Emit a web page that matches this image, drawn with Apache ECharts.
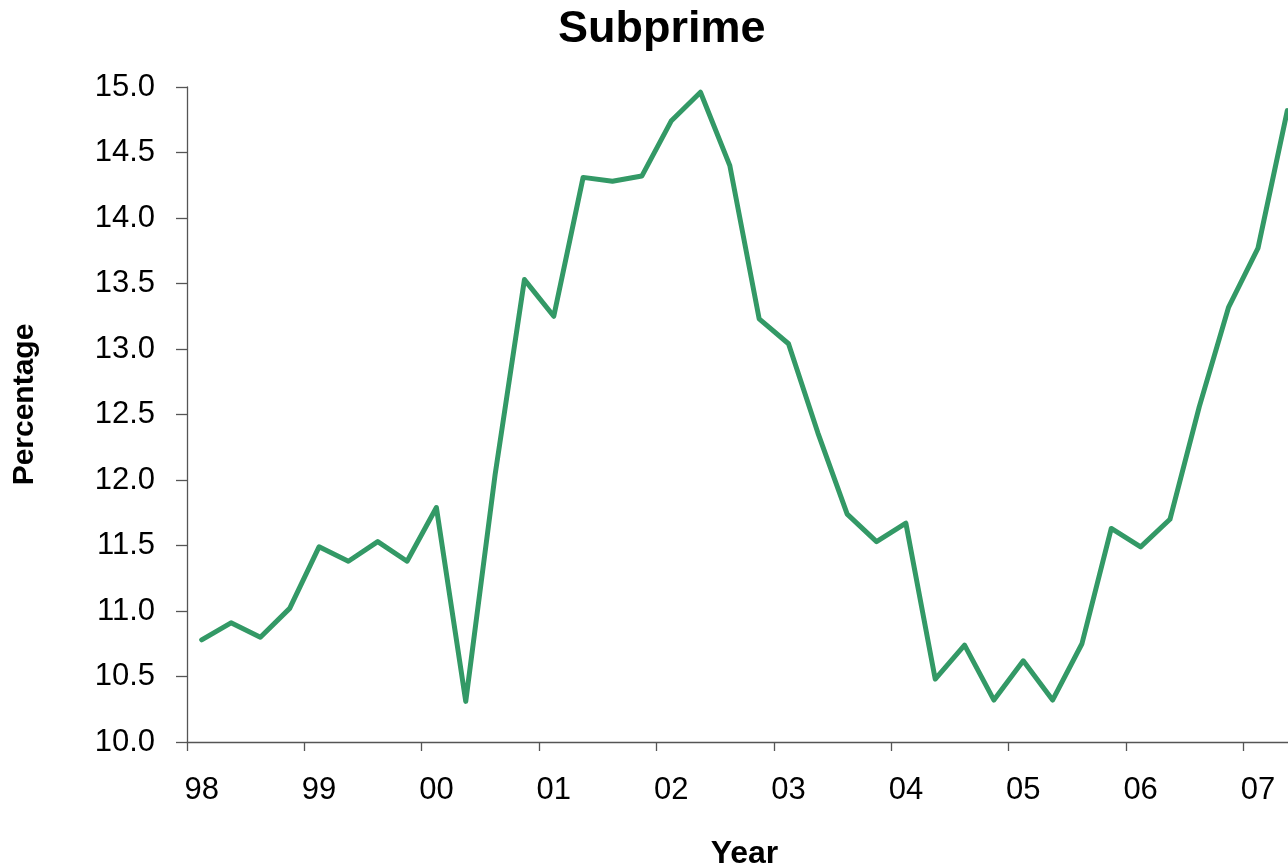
<!DOCTYPE html>
<html>
<head>
<meta charset="utf-8">
<script src="https://cdn.jsdelivr.net/npm/echarts@6/dist/echarts.min.js"></script>
<style>
  html, body { margin: 0; padding: 0; background: #ffffff; }
  #chart { width: 1288px; height: 864px; }
</style>
</head>
<body>
<div id="chart"></div>
<script>
// Quarterly periods, 1998 Q1 through 2007 Q2
const quarters = [
  '98Q1','98Q2','98Q3','98Q4',
  '99Q1','99Q2','99Q3','99Q4',
  '00Q1','00Q2','00Q3','00Q4',
  '01Q1','01Q2','01Q3','01Q4',
  '02Q1','02Q2','02Q3','02Q4',
  '03Q1','03Q2','03Q3','03Q4',
  '04Q1','04Q2','04Q3','04Q4',
  '05Q1','05Q2','05Q3','05Q4',
  '06Q1','06Q2','06Q3','06Q4',
  '07Q1','07Q2'
];

// Subprime rate, percent
const subprime = [
  10.78, 10.91, 10.80, 11.02,
  11.49, 11.38, 11.53, 11.38,
  11.79, 10.31, 12.04, 13.53,
  13.25, 14.31, 14.28, 14.32,
  14.74, 14.96, 14.40, 13.23,
  13.04, 12.36, 11.74, 11.53,
  11.67, 10.48, 10.74, 10.32,
  10.62, 10.32, 10.75, 11.63,
  11.49, 11.70, 12.56, 13.32,
  13.77, 14.82
];

// Year labels shown under the first quarter of each year
const yearLabels = ['98','99','00','01','02','03','04','05','06','07'];

const FONT = '"Liberation Sans", Arial, Helvetica, sans-serif';

const chart = echarts.init(document.getElementById('chart'));
chart.setOption({
  backgroundColor: '#ffffff',
  animation: false,
  title: {
    text: 'Subprime',
    left: 558,
    top: 7,
    padding: 0,
    textStyle: { fontFamily: FONT, fontSize: 45, fontWeight: 'bold', color: '#000000' }
  },
  // plot area runs slightly past the right edge so the last quarter sits on it
  grid: {
    left: 187, width: 1115, top: 87, bottom: 122,
    containLabel: false,
    outerBoundsMode: 'none'
  },
  xAxis: {
    type: 'category',
    data: quarters,
    boundaryGap: true,
    name: 'Year',
    nameLocation: 'middle',
    nameGap: 96,
    nameTextStyle: { fontFamily: FONT, fontSize: 32, fontWeight: 'bold', color: '#000000' },
    axisLine: { lineStyle: { color: '#555555', width: 1.3 } },
    axisTick: { show: true, interval: 3, length: 9, inside: false, lineStyle: { color: '#555555', width: 1.3 } },
    axisLabel: {
      interval: 3,
      margin: 33,
      fontFamily: FONT,
      fontSize: 31,
      color: '#000000',
      formatter: function (v, i) { return yearLabels[Math.floor(i / 4)]; }
    },
    splitLine: { show: false }
  },
  yAxis: {
    type: 'value',
    min: 10,
    max: 15,
    interval: 0.5,
    name: 'Percentage',
    nameLocation: 'middle',
    nameRotate: 90,
    nameGap: 147,
    nameTextStyle: { fontFamily: FONT, fontSize: 30, fontWeight: 'bold', color: '#000000', padding: [0, 0, 0, 20] },
    axisLine: { show: true, lineStyle: { color: '#555555', width: 1.3 } },
    axisTick: { show: true, length: 11, inside: false, lineStyle: { color: '#555555', width: 1.3 } },
    axisLabel: {
      margin: 32,
      fontFamily: FONT,
      fontSize: 31,
      color: '#000000',
      formatter: function (v) { return v.toFixed(1); }
    },
    splitLine: { show: false }
  },
  series: [{
    type: 'line',
    name: 'Subprime',
    data: subprime,
    symbol: 'none',
    lineStyle: { color: '#339966', width: 5, join: 'round', cap: 'round' },
    itemStyle: { color: '#339966' }
  }]
});
</script>
</body>
</html>
